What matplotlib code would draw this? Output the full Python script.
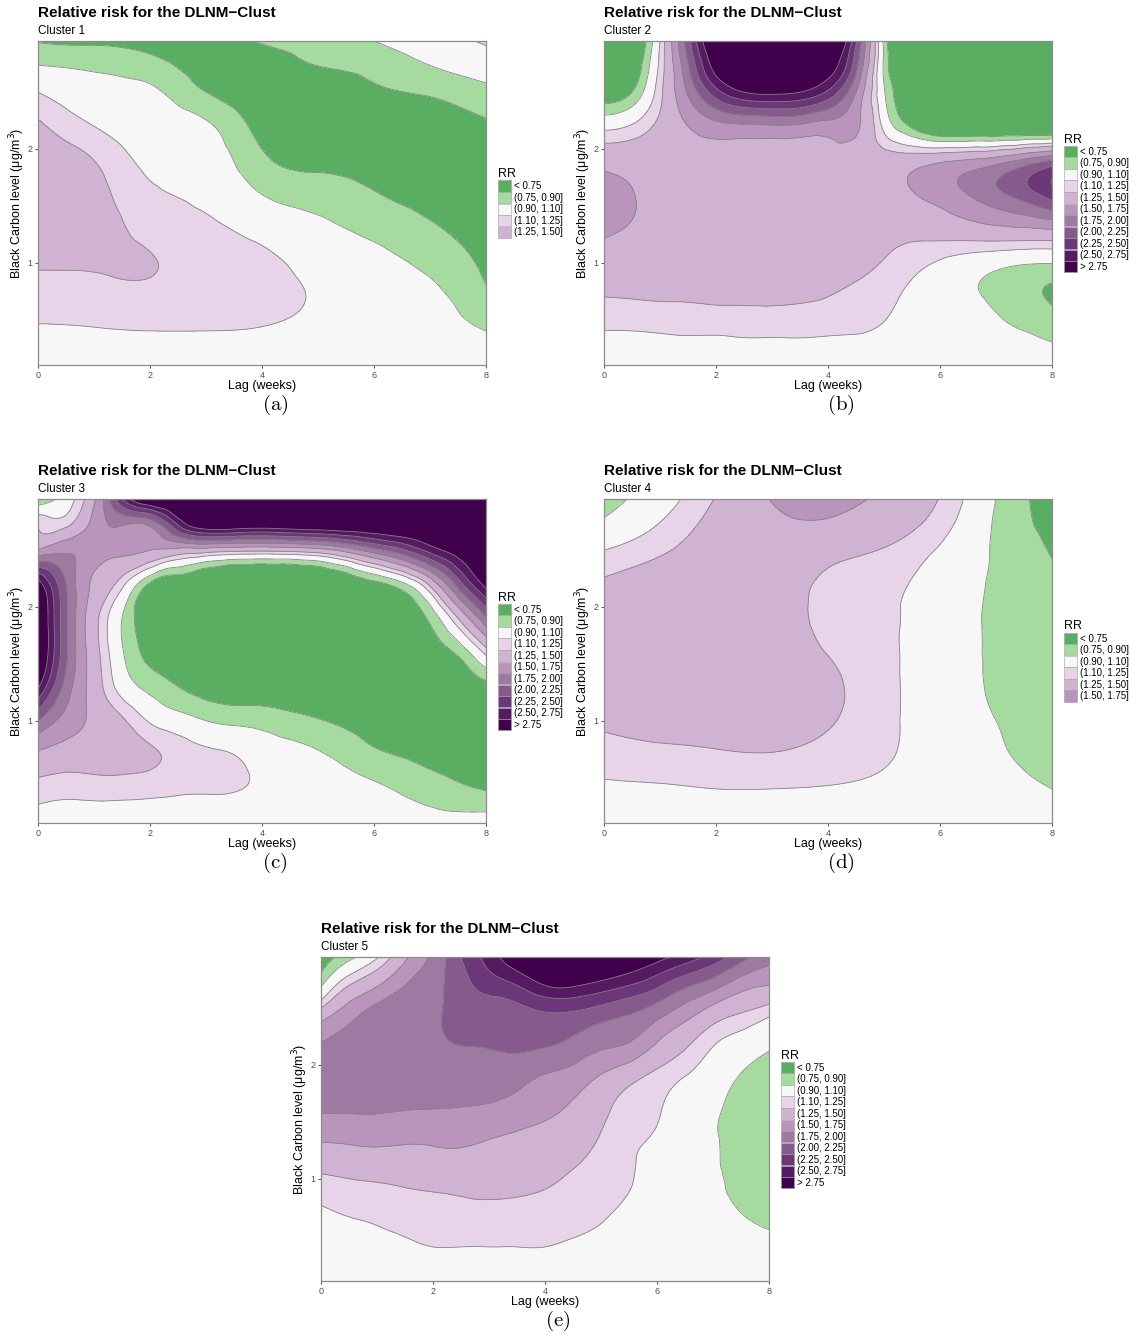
import numpy as np
import matplotlib
matplotlib.use("Agg")
import matplotlib.pyplot as plt
import matplotlib.tri as mtri
from matplotlib.patches import Patch

plt.rcParams['font.family'] = ['Liberation Sans', 'DejaVu Sans']

# grid the RR surfaces were read on
bc_levels = [0.1, 0.4, 0.7, 1.0, 1.3, 1.6, 1.9, 2.2, 2.5, 2.7, 2.95]
lag_coarse = [0, 1, 2, 3, 4, 5, 6, 7, 8]
lag_fine = [0, 0.5, 1, 1.5, 2, 2.5, 3, 3.5, 4, 4.5, 5, 5.5, 6, 6.5, 7, 7.5, 8]

rr_breaks = [0, 0.75, 0.9, 1.1, 1.25, 1.5, 1.75, 2.0, 2.25, 2.5, 2.75, 10]
rr_labels = ['< 0.75', '(0.75, 0.90]', '(0.90, 1.10]', '(1.10, 1.25]', '(1.25, 1.50]',
             '(1.50, 1.75]', '(1.75, 2.00]', '(2.00, 2.25]', '(2.25, 2.50]',
             '(2.50, 2.75]', '> 2.75']
rr_colors = ['#5aae61', '#a6dba0', '#f7f7f7', '#e7d4e8', '#d0b2d2', '#b995bb',
             '#9e79a2', '#865a8c', '#6c3778', '#551a62', '#40004b']

# one inner list per lag, values from low to high black carbon level
rr_cluster1 = [
    [1.02, 1.08, 1.18, 1.27, 1.34, 1.36, 1.34, 1.28, 1.10, 0.93, 0.74],
    [1.02, 1.09, 1.19, 1.27, 1.32, 1.31, 1.25, 1.10, 0.97, 0.89, 0.72],
    [1.01, 1.10, 1.20, 1.26, 1.20, 1.13, 1.06, 1.00, 0.93, 0.83, 0.68],
    [1.00, 1.10, 1.17, 1.18, 1.13, 1.06, 1.00, 0.93, 0.75, 0.68, 0.66],
    [1.00, 1.09, 1.15, 1.14, 1.04, 0.90, 0.78, 0.70, 0.66, 0.68, 0.76],
    [0.99, 1.05, 1.08, 1.03, 0.94, 0.83, 0.71, 0.66, 0.68, 0.74, 0.80],
    [0.99, 1.02, 1.00, 0.95, 0.86, 0.76, 0.68, 0.65, 0.73, 0.78, 0.90],
    [0.98, 0.97, 0.94, 0.86, 0.77, 0.70, 0.66, 0.67, 0.77, 0.88, 1.02],
    [0.96, 0.90, 0.78, 0.72, 0.68, 0.66, 0.68, 0.73, 0.85, 0.98, 1.12],
]

rr_cluster2 = [
    [1.02, 1.10, 1.25, 1.38, 1.55, 1.60, 1.42, 1.05, 0.65, 0.55, 0.50],
    [1.02, 1.10, 1.26, 1.38, 1.48, 1.51, 1.40, 1.12, 0.75, 0.62, 0.55],
    [1.02, 1.11, 1.27, 1.36, 1.42, 1.42, 1.38, 1.30, 1.20, 1.15, 1.10],
    [1.02, 1.12, 1.27, 1.33, 1.36, 1.36, 1.38, 1.50, 1.78, 1.95, 2.15],
    [1.02, 1.12, 1.28, 1.31, 1.33, 1.33, 1.38, 1.66, 2.40, 2.85, 3.20],
    [1.02, 1.13, 1.28, 1.31, 1.33, 1.33, 1.38, 1.70, 2.75, 3.20, 3.50],
    [1.02, 1.13, 1.28, 1.31, 1.33, 1.34, 1.36, 1.72, 2.82, 3.30, 3.60],
    [1.02, 1.13, 1.27, 1.31, 1.33, 1.34, 1.38, 1.70, 2.75, 3.20, 3.50],
    [1.02, 1.12, 1.25, 1.30, 1.32, 1.33, 1.38, 1.64, 2.45, 2.90, 3.30],
    [1.02, 1.11, 1.21, 1.29, 1.31, 1.33, 1.38, 1.55, 1.75, 2.05, 2.30],
    [1.01, 1.08, 1.15, 1.24, 1.30, 1.35, 1.35, 1.05, 0.92, 0.87, 0.85],
    [1.00, 1.03, 1.06, 1.16, 1.31, 1.48, 1.38, 0.72, 0.62, 0.57, 0.55],
    [0.99, 0.99, 0.99, 1.08, 1.35, 1.60, 1.45, 0.52, 0.55, 0.55, 0.50],
    [0.98, 0.96, 0.93, 1.01, 1.40, 1.75, 1.52, 0.50, 0.55, 0.55, 0.50],
    [0.97, 0.93, 0.87, 0.96, 1.45, 1.93, 1.62, 0.50, 0.55, 0.55, 0.50],
    [0.96, 0.90, 0.80, 0.92, 1.48, 2.12, 1.80, 0.50, 0.55, 0.55, 0.50],
    [0.95, 0.86, 0.73, 0.91, 1.52, 2.38, 2.00, 0.50, 0.55, 0.55, 0.50],
]

rr_cluster3 = [
    [1.02, 1.18, 1.45, 2.00, 2.80, 3.20, 3.20, 2.90, 1.52, 1.25, 0.74],
    [1.02, 1.15, 1.38, 1.65, 1.90, 2.05, 2.05, 2.00, 1.70, 1.25, 1.00],
    [1.02, 1.16, 1.37, 1.45, 1.38, 1.35, 1.33, 1.45, 1.62, 1.60, 1.45],
    [1.02, 1.16, 1.35, 1.28, 1.02, 0.92, 0.90, 1.15, 1.55, 1.72, 2.50],
    [1.01, 1.15, 1.28, 1.08, 0.85, 0.70, 0.64, 0.72, 1.50, 1.72, 3.20],
    [1.00, 1.13, 1.20, 0.98, 0.75, 0.63, 0.60, 0.64, 1.42, 2.40, 3.30],
    [1.00, 1.12, 1.14, 0.90, 0.68, 0.60, 0.58, 0.60, 1.38, 2.85, 3.40],
    [1.00, 1.11, 1.10, 0.86, 0.66, 0.59, 0.57, 0.59, 1.32, 2.85, 3.45],
    [1.00, 1.07, 1.02, 0.84, 0.66, 0.58, 0.56, 0.58, 1.30, 2.80, 3.50],
    [1.00, 1.03, 0.97, 0.80, 0.65, 0.58, 0.56, 0.58, 1.33, 2.85, 3.50],
    [0.99, 1.00, 0.92, 0.76, 0.64, 0.58, 0.56, 0.59, 1.40, 2.90, 3.50],
    [0.99, 0.97, 0.85, 0.72, 0.63, 0.58, 0.57, 0.62, 1.60, 2.95, 3.50],
    [0.98, 0.93, 0.78, 0.68, 0.62, 0.58, 0.60, 0.70, 1.90, 3.00, 3.50],
    [0.97, 0.88, 0.74, 0.65, 0.61, 0.60, 0.64, 0.85, 2.20, 3.05, 3.50],
    [0.96, 0.83, 0.70, 0.63, 0.62, 0.66, 0.78, 1.30, 2.60, 3.10, 3.50],
    [0.97, 0.78, 0.67, 0.62, 0.64, 0.78, 1.25, 2.10, 2.90, 3.20, 3.50],
    [1.00, 0.74, 0.65, 0.62, 0.70, 1.15, 1.95, 2.85, 3.20, 3.30, 3.40],
]

rr_cluster4 = [
    [1.00, 1.07, 1.18, 1.28, 1.35, 1.38, 1.37, 1.28, 1.10, 0.95, 0.82],
    [1.00, 1.08, 1.21, 1.31, 1.38, 1.41, 1.41, 1.36, 1.22, 1.12, 1.02],
    [1.00, 1.10, 1.23, 1.33, 1.40, 1.43, 1.44, 1.42, 1.38, 1.33, 1.26],
    [1.00, 1.10, 1.24, 1.35, 1.42, 1.44, 1.42, 1.40, 1.45, 1.46, 1.51],
    [1.00, 1.09, 1.19, 1.27, 1.30, 1.24, 1.17, 1.20, 1.33, 1.45, 1.60],
    [0.99, 1.06, 1.12, 1.14, 1.14, 1.13, 1.12, 1.14, 1.24, 1.34, 1.45],
    [0.98, 1.00, 1.01, 1.00, 1.00, 0.99, 0.99, 1.01, 1.08, 1.16, 1.24],
    [0.97, 0.95, 0.92, 0.90, 0.88, 0.88, 0.88, 0.88, 0.88, 0.88, 0.90],
    [0.95, 0.90, 0.84, 0.82, 0.81, 0.80, 0.79, 0.77, 0.74, 0.71, 0.68],
]

rr_cluster5 = [
    [1.00, 1.03, 1.08, 1.22, 1.48, 1.77, 1.85, 1.75, 1.25, 0.88, 0.65],
    [1.00, 1.05, 1.11, 1.25, 1.50, 1.77, 1.87, 1.85, 1.58, 1.25, 0.85],
    [1.00, 1.06, 1.13, 1.27, 1.52, 1.77, 1.88, 1.90, 1.80, 1.48, 1.08],
    [1.01, 1.08, 1.16, 1.29, 1.50, 1.75, 1.90, 1.93, 1.88, 1.75, 1.45],
    [1.01, 1.10, 1.18, 1.31, 1.51, 1.74, 1.92, 1.97, 1.95, 1.92, 1.80],
    [1.00, 1.10, 1.20, 1.32, 1.52, 1.73, 1.90, 2.01, 2.10, 2.15, 2.25],
    [1.00, 1.10, 1.20, 1.33, 1.47, 1.70, 1.90, 2.02, 2.15, 2.35, 2.60],
    [1.00, 1.10, 1.19, 1.32, 1.43, 1.63, 1.85, 2.05, 2.20, 2.50, 3.00],
    [1.00, 1.10, 1.18, 1.28, 1.38, 1.55, 1.73, 2.04, 2.30, 2.75, 3.20],
    [1.00, 1.08, 1.16, 1.23, 1.32, 1.45, 1.65, 1.95, 2.30, 2.78, 3.30],
    [0.99, 1.06, 1.12, 1.17, 1.22, 1.30, 1.48, 1.82, 2.20, 2.65, 3.20],
    [0.99, 1.03, 1.07, 1.11, 1.12, 1.18, 1.33, 1.75, 2.08, 2.50, 3.05],
    [0.98, 0.99, 1.00, 1.02, 1.06, 1.12, 1.20, 1.50, 1.92, 2.30, 2.85],
    [0.97, 0.95, 0.93, 0.92, 0.93, 0.97, 1.10, 1.30, 1.68, 2.05, 2.65],
    [0.96, 0.94, 0.92, 0.91, 0.905, 0.91, 1.00, 1.12, 1.45, 1.85, 2.40],
    [0.95, 0.93, 0.90, 0.87, 0.86, 0.86, 0.89, 1.03, 1.30, 1.60, 2.10],
    [0.94, 0.92, 0.88, 0.85, 0.84, 0.84, 0.86, 0.93, 1.20, 1.50, 1.85],
]

W, H = 1136, 1336
AX_W, AX_H = 448, 324

fig = plt.figure(figsize=(W / 100, H / 100), dpi=100)


def grid_triangles(ny, nx):
    idx = np.arange(ny * nx).reshape(ny, nx)
    a = idx[:-1, :-1].ravel()
    b = idx[:-1, 1:].ravel()
    c = idx[1:, 1:].ravel()
    d = idx[1:, :-1].ravel()
    return np.concatenate([np.c_[a, b, c], np.c_[a, c, d]])


def draw_panel(lags, rr_cols, subtitle, tag, left, top, n_classes):
    ax = fig.add_axes([left / W, 1 - (top + AX_H) / H, AX_W / W, AX_H / H])
    X, Y = np.meshgrid(lags, bc_levels)
    Z = np.array(rr_cols, dtype=float).T
    tri = mtri.Triangulation(X.ravel(), Y.ravel(), grid_triangles(*Z.shape))
    interp = mtri.CubicTriInterpolator(tri, Z.ravel(), kind='min_E')
    refiner = mtri.UniformTriRefiner(tri)
    tri_f, z_f = refiner.refine_field(Z.ravel(), triinterpolator=interp, subdiv=4)

    ax.tricontourf(tri_f, z_f, levels=rr_breaks, colors=rr_colors)
    ax.tricontour(tri_f, z_f, levels=rr_breaks[1:-1], colors='#858585', linewidths=0.6)

    ax.set_xlim(0, 8)
    ax.set_ylim(0.1, 2.95)
    ax.set_xticks([0, 2, 4, 6, 8])
    ax.set_yticks([1, 2])
    ax.tick_params(direction='out', length=2.5, width=0.6, color='#333333',
                   labelsize=6.5, labelcolor='#4d4d4d', pad=1.5)
    for s in ax.spines.values():
        s.set_color('#8c8c8c')
        s.set_linewidth(0.9)

    handles = [Patch(facecolor=rr_colors[i], edgecolor='#a0a0a0', linewidth=0.4)
               for i in range(n_classes)]
    ax.legend(handles, rr_labels[:n_classes], loc='center left',
              bbox_to_anchor=(1 + 12 / AX_W, 0.5), borderaxespad=0, frameon=False,
              title='RR', fontsize=7, title_fontsize=9, handlelength=1.3,
              handleheight=1.4, labelspacing=0.03, handletextpad=0.3,
              alignment='left', borderpad=0)

    fig.text(left / W, 1 - (top - 28) / H, 'Relative risk for the DLNM\u2212Clust',
             fontsize=11, fontweight='bold', va='center', ha='left')
    fig.text(left / W, 1 - (top - 10) / H, subtitle, fontsize=8.5, va='center', ha='left')
    fig.text((left + AX_W / 2) / W, 1 - (top + AX_H + 21) / H, 'Lag (weeks)',
             fontsize=9, va='center', ha='center')
    fig.text((left - 21) / W, 1 - (top + AX_H / 2) / H, 'Black Carbon level (\u03bcg/m$^3$)',
             fontsize=9, va='center', ha='center', rotation=90)
    fig.text((left + 237) / W, 1 - (top + AX_H + 40) / H, r'$\mathrm{' + tag + '}$',
             fontsize=15, va='center', ha='center', math_fontfamily='cm')


draw_panel(lag_coarse, rr_cluster1, 'Cluster 1', '(a)', 38, 41, 5)
draw_panel(lag_fine, rr_cluster2, 'Cluster 2', '(b)', 604, 41, 11)
draw_panel(lag_fine, rr_cluster3, 'Cluster 3', '(c)', 38, 499, 11)
draw_panel(lag_coarse, rr_cluster4, 'Cluster 4', '(d)', 604, 499, 6)
draw_panel(lag_fine, rr_cluster5, 'Cluster 5', '(e)', 321, 957, 11)

fig.savefig('out.png', dpi=100)
